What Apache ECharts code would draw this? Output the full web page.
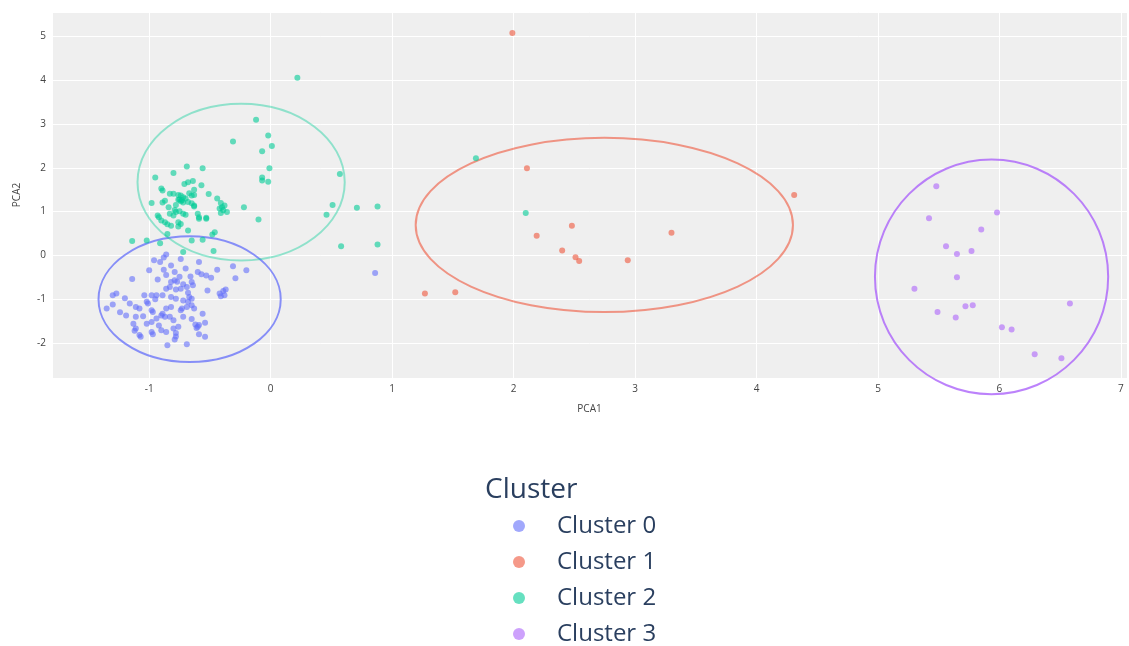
<!DOCTYPE html>
<html>
<head>
<meta charset="utf-8">
<script src="https://cdn.jsdelivr.net/npm/echarts@6/dist/echarts.min.js"></script>
<style>html,body{margin:0;padding:0;background:#fff;}#c{width:1129px;height:646px;}</style>
</head>
<body>
<div id="c"></div>
<script>
var clusterNames = ['Cluster 0', 'Cluster 1', 'Cluster 2', 'Cluster 3'];
var clusterColors = ['#636efa', '#EF553B', '#00cc96', '#ab63fa'];

var cluster0 = [[-0.86,0.02],[-0.88,-0.05],[-0.96,-0.11],[-0.91,-0.15],[-0.82,-0.23],[-0.74,-0.08],[-0.59,-0.15],[-1.00,-0.34],[-0.88,-0.33],[-0.79,-0.38],[-0.75,-0.49],[-0.60,-0.38],[-0.57,-0.43],[-0.53,-0.46],[-0.49,-0.51],[-0.44,-0.33],[-0.31,-0.25],[-0.20,-0.34],[-0.29,-0.52],[-0.66,-0.48],[-0.65,-0.61],[-0.93,-0.55],[-1.14,-0.54],[-0.82,-0.61],[-0.79,-0.57],[-0.72,-0.66],[-0.69,-0.72],[-0.74,-0.76],[-0.86,-0.76],[-0.83,-0.72],[-0.78,-0.78],[-0.64,-0.68],[-0.52,-0.80],[-0.42,-0.87],[-0.39,-0.81],[-0.37,-0.78],[-0.41,-0.93],[-0.38,-0.91],[-1.27,-0.87],[-1.30,-0.91],[-1.04,-0.91],[-0.98,-0.91],[-0.94,-0.91],[-0.89,-0.91],[-0.82,-0.95],[-0.78,-0.99],[-0.72,-1.03],[-0.67,-0.95],[-0.65,-0.99],[-0.68,-1.06],[-0.65,-1.14],[-0.69,-1.18],[-1.02,-1.06],[-1.01,-1.10],[-1.16,-1.10],[-1.30,-1.12],[-1.35,-1.21],[-1.11,-1.18],[-1.08,-1.21],[-0.98,-1.25],[-0.97,-1.29],[-0.82,-1.18],[-0.86,-1.21],[-0.74,-1.25],[-0.73,-1.21],[-0.63,-1.21],[-0.56,-1.33],[-1.19,-1.37],[-1.11,-1.40],[-1.05,-1.39],[-0.90,-1.37],[-0.89,-1.33],[-0.87,-1.40],[-0.83,-1.40],[-0.80,-1.48],[-0.98,-1.52],[-1.02,-1.56],[-0.94,-1.44],[-1.13,-1.56],[-0.60,-1.63],[-0.59,-1.59],[-0.61,-1.66],[-0.54,-1.54],[-0.76,-1.63],[-0.80,-1.67],[-0.90,-1.71],[-0.86,-1.75],[-1.11,-1.67],[-1.12,-1.72],[-0.98,-1.75],[-0.97,-1.80],[-1.08,-1.82],[-1.07,-1.86],[-0.78,-1.77],[-0.78,-1.85],[-0.59,-1.80],[-0.54,-1.86],[-0.85,-2.05],[-0.69,-2.03],[-0.79,-1.92],[-0.62,-1.58],[-0.86,-0.45],[-0.70,-0.30],[-0.77,-0.60],[-0.68,-0.85],[-0.95,-1.00],[-1.20,-0.98],[-0.72,-1.40],[-0.65,-1.45],[-1.24,-1.30],[-0.92,-1.60],[0.86,-0.40]];

var cluster1 = [[1.99,5.08],[2.11,1.99],[2.48,0.68],[2.19,0.45],[2.40,0.11],[2.51,-0.04],[2.54,-0.13],[2.94,-0.11],[3.30,0.52],[4.31,1.38],[1.52,-0.84],[1.27,-0.87]];

var cluster2 = [[0.22,4.06],[0.57,1.86],[0.51,1.15],[0.46,0.93],[0.71,1.09],[0.88,1.12],[0.58,0.21],[0.88,0.25],[1.69,2.22],[2.10,0.97],[-0.12,3.10],[-0.31,2.60],[-0.02,2.74],[0.01,2.50],[-0.07,2.38],[-0.01,1.99],[-0.07,1.78],[-0.07,1.71],[-0.02,1.68],[-0.69,2.03],[-0.56,1.99],[-0.80,1.88],[-0.95,1.78],[-0.90,1.53],[-0.89,1.48],[-0.71,1.63],[-0.68,1.67],[-0.64,1.70],[-0.51,1.40],[-0.44,1.30],[-0.41,1.20],[-0.38,1.14],[-0.42,1.07],[-0.39,1.03],[-0.36,0.99],[-0.41,0.97],[-0.40,1.10],[-0.22,1.10],[-0.10,0.82],[-0.53,0.86],[-0.59,0.84],[-0.59,0.87],[-0.46,0.53],[-0.48,0.48],[-0.63,1.50],[-0.83,1.41],[-0.80,1.41],[-0.76,1.38],[-0.74,1.37],[-0.72,1.33],[-0.67,1.42],[-0.65,1.37],[-0.63,1.38],[-0.87,1.25],[-0.89,1.21],[-0.76,1.27],[-0.74,1.24],[-0.72,1.21],[-0.68,1.22],[-0.65,1.19],[-0.63,1.12],[-0.79,1.04],[-0.78,0.99],[-0.75,1.01],[-0.72,0.95],[-0.70,0.93],[-0.83,0.95],[-0.80,0.91],[-0.92,0.87],[-0.93,0.91],[-0.53,0.84],[-0.90,0.80],[-0.87,0.76],[-0.85,0.71],[-0.82,0.68],[-0.76,0.76],[-0.74,0.72],[-0.76,0.66],[-0.68,0.57],[-1.14,0.33],[-1.02,0.34],[-0.91,0.28],[-0.85,0.49],[-0.65,0.34],[-0.56,0.36],[-0.72,0.08],[-0.47,0.10],[-0.63,1.14],[-0.75,1.28],[-0.73,1.26],[-0.70,1.30],[-0.78,1.15],[-0.84,1.10],[-0.60,0.95],[-0.57,1.60],[-0.98,1.20]];

var cluster3 = [[5.48,1.58],[5.42,0.85],[5.98,0.98],[5.85,0.59],[5.56,0.21],[5.65,0.03],[5.77,0.10],[5.65,-0.50],[5.30,-0.76],[5.72,-1.16],[5.78,-1.14],[5.49,-1.29],[5.64,-1.42],[6.58,-1.10],[6.02,-1.64],[6.10,-1.69],[6.29,-2.26],[6.51,-2.35]];

// ellipse per cluster: [centerX, centerY, radiusX, radiusY] in data units
var ellipses = [[-0.667,-1.0,0.75,1.435],[2.747,0.695,1.553,1.99],[-0.243,1.674,0.853,1.79],[5.935,-0.49,0.96,2.68]];
var ellipseOpacity = [0.75, 0.6, 0.4, 0.8];

var clusters = [cluster0, cluster1, cluster2, cluster3];

var series = [];
clusters.forEach(function (pts, i) {
  series.push({
    name: clusterNames[i] + ' ellipse',
    type: 'custom',
    silent: true,
    clip: false,
    z: 1,
    data: [ellipses[i]],
    encode: {x: 0, y: 1},
    renderItem: function (params, api) {
      var c = api.coord([api.value(0), api.value(1)]);
      var s = api.size([api.value(2), api.value(3)]);
      return {
        type: 'ellipse',
        shape: {cx: c[0], cy: c[1], rx: s[0], ry: s[1]},
        style: {fill: 'none', stroke: clusterColors[i], lineWidth: 2, opacity: ellipseOpacity[i]}
      };
    }
  });
});
clusters.forEach(function (pts, i) {
  series.push({
    name: clusterNames[i],
    type: 'scatter',
    z: 2,
    symbolSize: 6,
    itemStyle: {color: clusterColors[i], opacity: 0.6},
    data: pts
  });
});

var chart = echarts.init(document.getElementById('c'));
chart.setOption({
  animation: false,
  backgroundColor: '#ffffff',
  textStyle: {fontFamily: 'Open Sans'},
  title: {
    text: 'Cluster',
    left: 485, top: 476,
    padding: 0,
    textStyle: {fontSize: 28, fontWeight: 'normal', color: '#2a3f5f', fontFamily: 'Open Sans'}
  },
  legend: {
    data: clusterNames,
    orient: 'vertical',
    left: 513, top: 514,
    height: 200,
    padding: 0,
    icon: 'circle',
    itemWidth: 12, itemHeight: 12,
    itemGap: 12,
    textStyle: {fontSize: 24, color: '#2a3f5f', lineHeight: 24, padding: [0, 0, 0, 27], fontFamily: 'Open Sans'}
  },
  grid: {left: 52, right: 2, top: 12, bottom: 268, backgroundColor: '#efefef', show: true, borderWidth: 0},
  xAxis: {
    type: 'value',
    min: -1.8, max: 7.05,
    minInterval: 1, maxInterval: 1, splitNumber: 9,
    name: 'PCA1', nameLocation: 'middle', nameGap: 26,
    nameTextStyle: {fontSize: 10, color: '#444'},
    axisLine: {show: false}, axisTick: {show: false},
    axisLabel: {fontSize: 10, color: '#444', margin: 6, showMinLabel: false, showMaxLabel: false},
    splitLine: {lineStyle: {color: '#ffffff', width: 1}}
  },
  yAxis: {
    type: 'value',
    min: -2.8, max: 5.56,
    minInterval: 1, maxInterval: 1, splitNumber: 8,
    name: 'PCA2', nameLocation: 'middle', nameGap: 30,
    nameTextStyle: {fontSize: 10, color: '#444'},
    axisLine: {show: false}, axisTick: {show: false},
    axisLabel: {fontSize: 10, color: '#444', margin: 6, showMinLabel: false, showMaxLabel: false},
    splitLine: {lineStyle: {color: '#ffffff', width: 1}}
  },
  series: series
});
</script>
</body>
</html>
